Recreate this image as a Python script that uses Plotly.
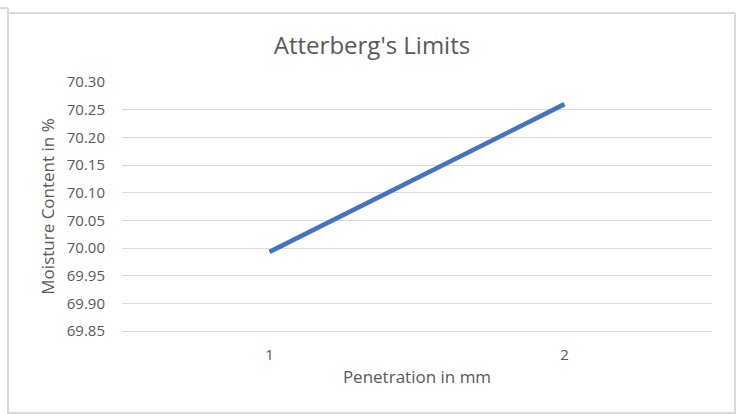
import plotly.graph_objects as go

# Cone penetration test readings
penetration_mm = [1, 2]
moisture_pct = [69.993, 70.26]

y_ticks = [69.85, 69.90, 69.95, 70.00, 70.05, 70.10, 70.15, 70.20, 70.25, 70.30]

FONT = "'Open Sans', Lato, sans-serif"
GREY_TEXT = "#595959"
GRID = "#d9d9d9"

fig = go.Figure()
fig.add_trace(go.Scatter(
    x=penetration_mm,
    y=moisture_pct,
    mode="lines",
    line=dict(color="#4472C4", width=4.5, shape="linear"),
    showlegend=False,
    hoverinfo="x+y",
))

# plot area spans x 122..712, y 82..331 px in a 740x414 canvas
L, R, T, B = 122, 712, 82, 331
W, H = R - L, B - T


def px(x):
    return (x - L) / W


def py(y):
    return (B - y) / H


border = dict(color=GRID, width=2)
shapes = [
    dict(type="line", xref="paper", yref="paper", x0=px(0), x1=px(8), y0=py(8), y1=py(8), line=border),
    dict(type="line", xref="paper", yref="paper", x0=px(8), x1=px(8), y0=py(8), y1=py(414), line=border),
    dict(type="line", xref="paper", yref="paper", x0=px(8), x1=px(735), y0=py(13), y1=py(13), line=border),
    dict(type="line", xref="paper", yref="paper", x0=px(735), x1=px(735), y0=py(13), y1=py(414), line=border),
    dict(type="line", xref="paper", yref="paper", x0=px(8), x1=px(735), y0=py(413), y1=py(413), line=border),
]

fig.update_layout(
    width=740,
    height=414,
    margin=dict(l=L, r=740 - R, t=T, b=414 - B),
    paper_bgcolor="white",
    plot_bgcolor="white",
    font=dict(family=FONT, color=GREY_TEXT, size=15),
    title=dict(
        text="Atterberg's Limits",
        xref="container", x=372 / 740, xanchor="center",
        yref="container", y=1 - 46 / 414, yanchor="middle",
        font=dict(size=24, color=GREY_TEXT, family=FONT),
    ),
    xaxis=dict(
        range=[0.5, 2.5],
        tickvals=penetration_mm,
        ticktext=[str(v) for v in penetration_mm],
        showgrid=False,
        zeroline=False,
        showline=True,
        linecolor=GRID,
        linewidth=1,
        ticks="",
        ticklabelstandoff=10,
        tickfont=dict(size=15, color=GREY_TEXT),
        title=dict(text="Penetration in mm", font=dict(size=17, color=GREY_TEXT), standoff=8),
        fixedrange=True,
    ),
    yaxis=dict(
        range=[69.85, 70.30],
        tickvals=y_ticks,
        ticktext=[f"{v:.2f}" for v in y_ticks],
        showgrid=True,
        gridcolor=GRID,
        gridwidth=1,
        zeroline=False,
        showline=False,
        ticks="",
        ticklabelstandoff=16,
        tickfont=dict(size=15, color=GREY_TEXT),
        title=dict(text="Moisture Content in %", font=dict(size=17, color=GREY_TEXT), standoff=7),
        fixedrange=True,
    ),
    shapes=shapes,
)

fig.write_html("out.html")
